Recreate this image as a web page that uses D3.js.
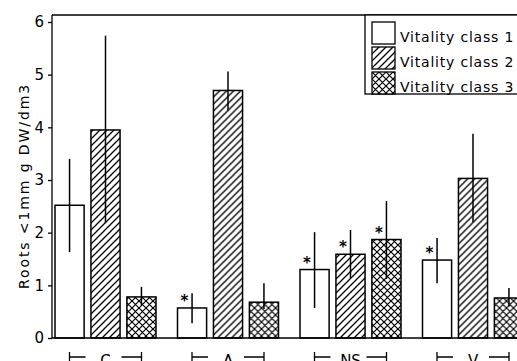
<!DOCTYPE html>
<html>
<head>
<meta charset="utf-8">
<script src="https://cdn.jsdelivr.net/npm/d3@7"></script>
<style>
  body { margin: 0; background: #fff; }
  text { font-family: "DejaVu Sans", sans-serif; fill: #000; }
</style>
</head>
<body>
<script>
// data
var groups = ["C", "A", "NS", "V"];
var classes = ["Vitality class 1", "Vitality class 2", "Vitality class 3"];
var yTicks = [0, 1, 2, 3, 4, 5, 6];

// mean per group, one column per vitality class
var means = [
  [2.52, 3.95, 0.78],
  [0.57, 4.70, 0.68],
  [1.30, 1.59, 1.87],
  [1.48, 3.03, 0.76]
];
var errLow = [
  [1.63, 2.18, 0.62],
  [0.28, 4.32, 0.55],
  [0.57, 1.14, 1.12],
  [1.04, 2.20, 0.60]
];
var errHigh = [
  [3.40, 5.74, 0.97],
  [0.85, 5.06, 1.04],
  [2.01, 2.05, 2.60],
  [1.90, 3.88, 0.95]
];
// significance star
var stars = [
  [false, false, false],
  [true, false, false],
  [true, true, true],
  [true, false, false]
];

var width = 517, height = 361;
var margin = {top: 15, left: 52, bottom: 23};

var svg = d3.select("body").append("svg")
    .attr("width", width)
    .attr("height", height);

var defs = svg.append("defs");

// hatch patterns
var diag = defs.append("pattern")
    .attr("id", "diag")
    .attr("patternUnits", "userSpaceOnUse")
    .attr("width", 7).attr("height", 7);
diag.append("rect").attr("width", 7).attr("height", 7).attr("fill", "#fff");
diag.append("path")
    .attr("d", "M-1,8 L8,-1 M-4,4 L4,-4 M3,11 L11,3")
    .attr("stroke", "#000").attr("stroke-width", 1.3);

var cross = defs.append("pattern")
    .attr("id", "cross")
    .attr("patternUnits", "userSpaceOnUse")
    .attr("width", 7).attr("height", 7);
cross.append("rect").attr("width", 7).attr("height", 7).attr("fill", "#fff");
cross.append("path")
    .attr("d", "M-1,8 L8,-1 M-4,4 L4,-4 M3,11 L11,3 M-1,-1 L8,8 M-4,3 L4,11 M3,-4 L11,4")
    .attr("stroke", "#000").attr("stroke-width", 1.2);

var fills = ["#fff", "url(#diag)", "url(#cross)"];

var y = d3.scaleLinear()
    .domain([0, 6])
    .range([338, 22]);

// groups are wider than the picture, the last bar gets clipped
var x0 = d3.scaleBand()
    .domain(groups)
    .range([55, 55 + 4 * 122.5]);

var x1 = d3.scaleBand()
    .domain(d3.range(3))
    .range([0, 101])
    .paddingInner(0.19);

// bars
var g = svg.selectAll(".grp")
    .data(groups)
    .enter().append("g")
    .attr("class", "grp")
    .attr("transform", function(d) { return "translate(" + x0(d) + ",0)"; });

g.selectAll("rect")
    .data(function(d, i) { return means[i].map(function(v, j) { return {g: i, c: j, v: v}; }); })
    .enter().append("rect")
    .attr("x", function(d) { return x1(d.c); })
    .attr("y", function(d) { return y(d.v); })
    .attr("width", x1.bandwidth())
    .attr("height", function(d) { return y(0) - y(d.v); })
    .attr("fill", function(d) { return fills[d.c]; })
    .attr("stroke", "#000")
    .attr("stroke-width", 1.5);

// error bars
g.selectAll(".err")
    .data(function(d, i) { return means[i].map(function(v, j) { return {g: i, c: j}; }); })
    .enter().append("line")
    .attr("class", "err")
    .attr("x1", function(d) { return x1(d.c) + x1.bandwidth() / 2; })
    .attr("x2", function(d) { return x1(d.c) + x1.bandwidth() / 2; })
    .attr("y1", function(d) { return y(errLow[d.g][d.c]); })
    .attr("y2", function(d) { return y(errHigh[d.g][d.c]); })
    .attr("stroke", "#000")
    .attr("stroke-width", 1.5);

// stars
g.selectAll(".star")
    .data(function(d, i) {
      return means[i].map(function(v, j) { return {g: i, c: j, v: v}; })
        .filter(function(d) { return stars[d.g][d.c]; });
    })
    .enter().append("text")
    .attr("class", "star")
    .attr("x", function(d) { return x1(d.c) + 7; })
    .attr("y", function(d) { return y(d.v) - 2; })
    .attr("text-anchor", "middle")
    .style("font-size", "15px")
    .style("font-weight", "bold")
    .text("*");

// frame
svg.append("line")
    .attr("x1", margin.left).attr("x2", margin.left)
    .attr("y1", margin.top).attr("y2", y(0))
    .attr("stroke", "#000").attr("stroke-width", 1.3);
svg.append("line")
    .attr("x1", margin.left).attr("x2", width)
    .attr("y1", margin.top).attr("y2", margin.top)
    .attr("stroke", "#000").attr("stroke-width", 1.3);
svg.append("line")
    .attr("x1", margin.left).attr("x2", width)
    .attr("y1", y(0)).attr("y2", y(0))
    .attr("stroke", "#000").attr("stroke-width", 1.5);

// y axis
var yAxis = svg.append("g")
    .attr("transform", "translate(" + margin.left + ",0)")
    .call(d3.axisLeft(y).tickValues(yTicks).tickSize(4).tickPadding(4).tickFormat(d3.format("d")));
yAxis.select(".domain").remove();
yAxis.selectAll("line").attr("stroke-width", 1.3);
yAxis.selectAll("text")
    .style("font-size", "15px")
    .style("font-family", "DejaVu Sans, sans-serif");

svg.append("text")
    .attr("transform", "translate(29,186) rotate(-90)")
    .attr("text-anchor", "middle")
    .style("font-size", "14px")
    .style("letter-spacing", "1.9px")
    .text("Roots <1mm g DW/dm3");

// group labels with brackets (cut at the bottom edge, as in the original)
var lab = svg.selectAll(".lab")
    .data(groups)
    .enter().append("g")
    .attr("class", "lab")
    .attr("transform", function(d) { return "translate(" + (x0(d) + 50.5) + ",0)"; });

lab.append("text")
    .attr("x", 0)
    .attr("y", 366)
    .attr("text-anchor", "middle")
    .style("font-size", "15px")
    .text(function(d) { return d; });

lab.append("path")
    .attr("d", "M-36,352 V362 M-36,357 H-20 M36,352 V362 M36,357 H16")
    .attr("fill", "none")
    .attr("stroke", "#000")
    .attr("stroke-width", 1.3);

// legend
var leg = svg.append("g").attr("transform", "translate(365,15)");
leg.append("rect")
    .attr("x", 0).attr("y", 0)
    .attr("width", 200).attr("height", 79)
    .attr("fill", "#fff")
    .attr("stroke", "#000")
    .attr("stroke-width", 1.3);

var item = leg.selectAll(".item")
    .data(classes)
    .enter().append("g")
    .attr("class", "item")
    .attr("transform", function(d, i) { return "translate(0," + (7 + i * 25) + ")"; });

item.append("rect")
    .attr("x", 7).attr("y", 0)
    .attr("width", 23).attr("height", 22)
    .attr("fill", function(d, i) { return fills[i]; })
    .attr("stroke", "#000")
    .attr("stroke-width", 1.3);

item.append("text")
    .attr("x", 35)
    .attr("y", 20)
    .style("font-size", "14px")
    .style("letter-spacing", "0.8px")
    .text(function(d) { return d; });
</script>
</body>
</html>
